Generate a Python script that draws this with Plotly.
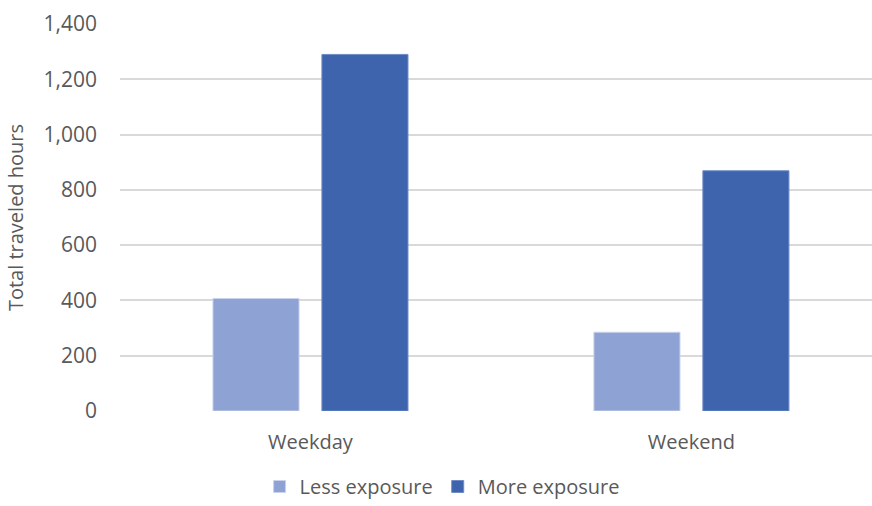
import plotly.graph_objects as go

categories = ["Weekday", "Weekend"]
less_exposure = [407, 285]
more_exposure = [1290, 869]
series_names = ["Less exposure", "More exposure"]
y_ticks = [0, 200, 400, 600, 800, 1000, 1200, 1400]
y_tick_labels = ["0", "200", "400", "600", "800", "1,000", "1,200", "1,400"]

FONT = "Open Sans"
TXT = "#595959"

fig = go.Figure()
fig.add_trace(go.Bar(x=categories, y=less_exposure, name=series_names[0],
                     marker=dict(color="#8FA2D4", line=dict(color="#C9D3EC", width=1))))
fig.add_trace(go.Bar(x=categories, y=more_exposure, name=series_names[1],
                     marker=dict(color="#3D64AD", line=dict(color="#6F8CC6", width=1))))

fig.update_layout(
    width=872, height=506,
    margin=dict(l=120, r=0, t=24, b=95),
    paper_bgcolor="white", plot_bgcolor="white",
    barmode="group", bargap=0.428, bargroupgap=0.21,
    font=dict(family=FONT, size=18, color=TXT),
    showlegend=True,
    legend=dict(orientation="h", xref="container", yref="container",
                x=0.507, xanchor="center", y=-0.008, yanchor="bottom",
                font=dict(family=FONT, size=20, color=TXT),
                itemwidth=30, traceorder="normal"),
    xaxis=dict(range=[-0.5, 1.474], showgrid=False, zeroline=False,
               showline=False, ticks="", tickfont=dict(size=20, color=TXT),
               ticklabelstandoff=17),
    yaxis=dict(range=[0, 1400], tickvals=y_ticks, ticktext=y_tick_labels,
               showgrid=True, gridcolor="#D9D9D9", gridwidth=1.5,
               zeroline=False, showline=False, ticks="",
               tickfont=dict(size=21, color=TXT), ticklabelstandoff=22,
               title=dict(text="Total traveled hours", font=dict(size=20, color=TXT), standoff=14)),
)
fig.write_html("out.html")
